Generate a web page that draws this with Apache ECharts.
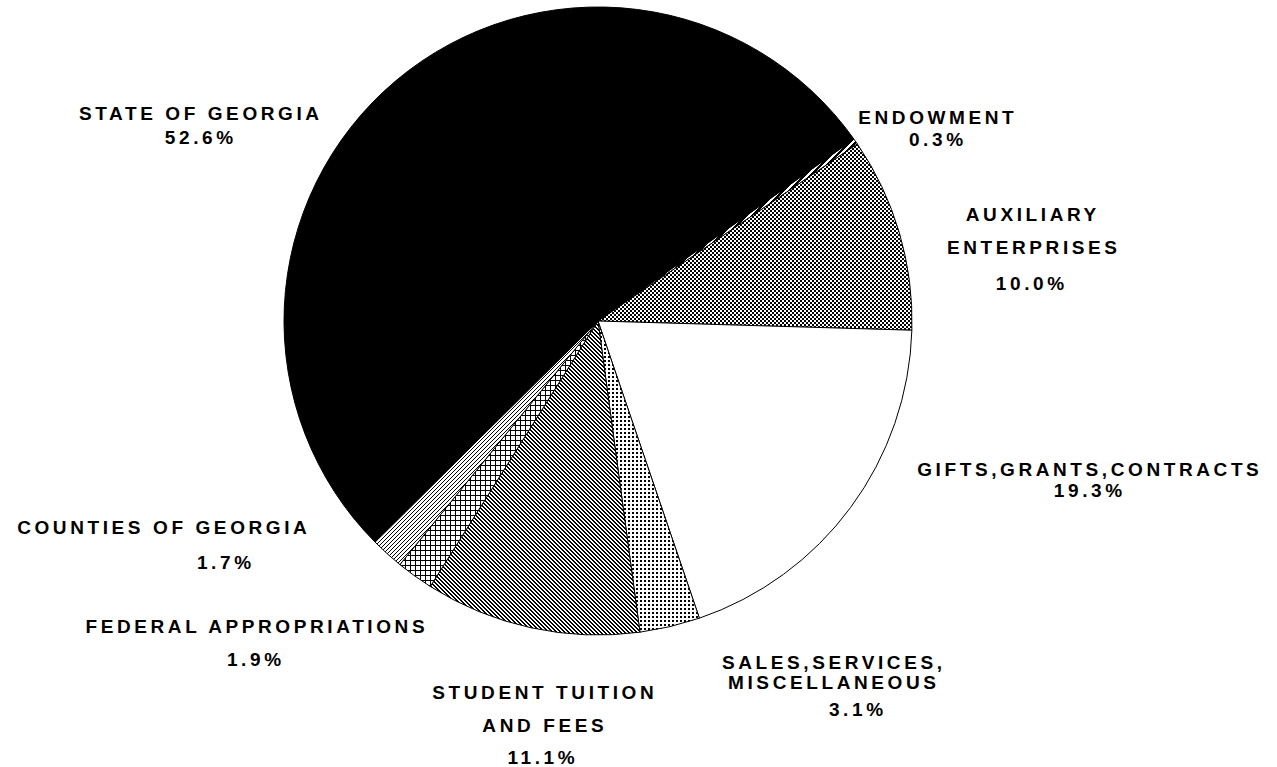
<!DOCTYPE html>
<html>
<head>
<meta charset="utf-8">
<script src="https://cdn.jsdelivr.net/npm/echarts@6/dist/echarts.min.js"></script>
<style>
  html, body { margin: 0; padding: 0; background: #fff; }
  #chart { width: 1277px; height: 767px; }
  #chart text { letter-spacing: 3.6px; }
</style>
</head>
<body>
<div id="chart"></div>
<script>
// ---- data (clockwise from the Endowment wedge) ----
const categories = [
  'ENDOWMENT',
  'AUXILIARY\nENTERPRISES',
  'GIFTS,GRANTS,CONTRACTS',
  'SALES,SERVICES,\nMISCELLANEOUS',
  'STUDENT TUITION\nAND FEES',
  'FEDERAL APPROPRIATIONS',
  'COUNTIES OF GEORGIA',
  'STATE OF GEORGIA'
];
const values = [0.3, 10.0, 19.3, 3.1, 11.1, 1.9, 1.7, 52.6];

// ---- label placement (layout only) ----
const nameLinePos = [
  [[936, 117]],
  [[1031, 214], [1032, 247]],
  [[1088, 469]],
  [[832, 662], [832, 682]],
  [[543, 692], [543, 725]],
  [[255, 626]],
  [[162, 527]],
  [[199, 113]]
];
const pctPos = [
  [936, 139], [1030, 283], [1088, 490], [856, 709],
  [541, 757], [254, 659], [224, 562], [199, 137]
];

// ---- fill patterns ----
function makePattern(size, test) {
  const c = document.createElement('canvas');
  c.width = size; c.height = size;
  const ctx = c.getContext('2d');
  ctx.fillStyle = '#fff';
  ctx.fillRect(0, 0, size, size);
  ctx.fillStyle = '#000';
  for (let y = 0; y < size; y++) {
    for (let x = 0; x < size; x++) {
      if (test(x, y)) ctx.fillRect(x, y, 1, 1);
    }
  }
  return { image: c, repeat: 'repeat', imageWidth: size, imageHeight: size };
}
const fills = [
  makePattern(6, (x, y) => (x + y) % 6 < 3),                                   // endowment: bold "/" stripes
  makePattern(4, (x, y) => (Math.floor(x / 2) + Math.floor(y / 2)) % 2 === 0), // auxiliary: fine checker
  '#ffffff',                                                                   // gifts: white
  makePattern(4, (x, y) => x < 2 && y < 2),                                    // sales: dots
  makePattern(4, (x, y) => (x - y + 4) % 4 < 2),                               // student: "\" lines
  makePattern(5, (x, y) => x === 0 || y === 0),                                // federal: grid
  makePattern(4, (x, y) => (x + y) % 4 === 0),                                 // counties: "/" lines
  '#000000'                                                                    // state: black
];

const FONT = 'bold 19px "Liberation Sans", Arial, sans-serif';
const graphics = [];
categories.forEach((name, i) => {
  name.split('\n').forEach((line, j) => {
    const p = nameLinePos[i][j];
    graphics.push({
      type: 'text', x: p[0] + 1.8, y: p[1], silent: true,
      style: { text: line, font: FONT, fill: '#000', align: 'center', verticalAlign: 'middle' }
    });
  });
  const q = pctPos[i];
  graphics.push({
    type: 'text', x: q[0] + 1.8, y: q[1], silent: true,
    style: { text: values[i].toFixed(1) + '%', font: FONT, fill: '#000', align: 'center', verticalAlign: 'middle' }
  });
});

const chart = echarts.init(document.getElementById('chart'), null, { renderer: 'svg', width: 1277, height: 767 });
chart.setOption({
  backgroundColor: '#ffffff',
  animation: false,
  series: [{
    type: 'pie',
    center: [598, 321],
    radius: 314,
    startAngle: 35.4,
    clockwise: true,
    avoidLabelOverlap: false,
    label: { show: false },
    labelLine: { show: false },
    emphasis: { disabled: true },
    itemStyle: { borderColor: '#000', borderWidth: 1 },
    data: categories.map((n, i) => ({
      name: n, value: values[i], itemStyle: { color: fills[i] }
    }))
  }],
  graphic: graphics
});
</script>
</body>
</html>
